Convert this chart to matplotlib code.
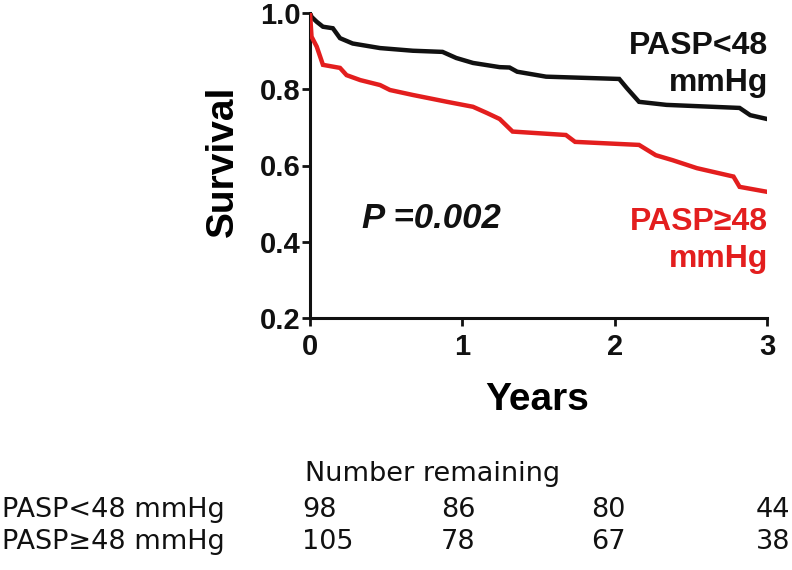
import matplotlib
matplotlib.use("Agg")
import matplotlib.pyplot as plt

# Kaplan-Meier curves (years, survival)
low_years = [0, 0.01, 0.044, 0.085, 0.15, 0.197, 0.28, 0.46, 0.675, 0.87, 0.96,
             1.07, 1.245, 1.31, 1.36, 1.55, 2.03, 2.08, 2.16, 2.34, 2.82, 2.89, 3.0]
low_surv = [1.0, 0.99, 0.977, 0.964, 0.96, 0.934, 0.92, 0.908, 0.901, 0.898, 0.882,
            0.869, 0.858, 0.857, 0.846, 0.833, 0.827, 0.803, 0.767, 0.759, 0.751, 0.732, 0.722]

high_years = [0, 0.01, 0.044, 0.085, 0.197, 0.24, 0.33, 0.46, 0.525, 0.675, 0.9, 1.07,
              1.16, 1.245, 1.33, 1.68, 1.74, 2.16, 2.27, 2.38, 2.54, 2.78, 2.82, 3.0]
high_surv = [1.0, 0.938, 0.912, 0.864, 0.856, 0.837, 0.824, 0.811, 0.798, 0.785, 0.767, 0.754,
             0.738, 0.722, 0.689, 0.68, 0.662, 0.654, 0.627, 0.614, 0.593, 0.571, 0.544, 0.531]

group_labels = ["PASP<48 mmHg", "PASP\u226548 mmHg"]
at_risk_low = [98, 86, 80, 44]
at_risk_high = [105, 78, 67, 38]
p_text = "P =0.002"

BLACK = "#111111"
RED = "#e31e1e"

plt.rcParams["font.family"] = ["Liberation Sans", "DejaVu Sans"]

W, H = 792, 570
fig = plt.figure(figsize=(W / 100, H / 100), dpi=100)
ax = fig.add_axes([310 / W, 1 - 318 / H, 457 / W, 305 / H])

ax.plot(low_years, low_surv, color=BLACK, lw=3.2, solid_joinstyle="miter", zorder=3)
ax.plot(high_years, high_surv, color=RED, lw=3.2, solid_joinstyle="miter", zorder=3)

ax.set_xlim(0, 3)
ax.set_ylim(0.2, 1.0)
ax.set_xticks([0, 1, 2, 3])
ax.set_yticks([0.2, 0.4, 0.6, 0.8, 1.0])
ax.set_yticklabels(["0.2", "0.4", "0.6", "0.8", "1.0"])
for side in ("top", "right"):
    ax.spines[side].set_visible(False)
for side in ("left", "bottom"):
    ax.spines[side].set_linewidth(2.2)
    ax.spines[side].set_color(BLACK)
ax.tick_params(axis="both", direction="out", length=6, width=2, color=BLACK,
               labelsize=21, labelcolor=BLACK)
ax.tick_params(axis="y", pad=1)
ax.tick_params(axis="x", pad=5)
for lab in ax.get_xticklabels() + ax.get_yticklabels():
    lab.set_fontweight("bold")

ax.set_ylabel("Survival", fontsize=28, fontweight="bold", va="center")
ax.yaxis.set_label_coords(-0.19, 0.515)
ax.set_xlabel("Years", fontsize=28, fontweight="bold", va="center")
ax.xaxis.set_label_coords(0.497, -0.27)

ax.text(1.003, 0.83, "PASP<48\nmmHg", transform=ax.transAxes, ha="right", va="center",
        multialignment="right", fontsize=23, fontweight="bold", color=BLACK, linespacing=1.3)
ax.text(1.003, 0.255, "PASP\u226548\nmmHg", transform=ax.transAxes, ha="right", va="center",
        multialignment="right", fontsize=23, fontweight="bold", color=RED, linespacing=1.3)
ax.text(0.114, 0.325, p_text, transform=ax.transAxes, ha="left", va="center",
        fontsize=25, fontweight="bold", fontstyle="italic", color=BLACK)

# number-at-risk table below the chart (wider face, as in the source)
tbl = dict(fontsize=19.5, color=BLACK, va="baseline", family=["DejaVu Sans"])
fig.text(305 / W, 1 - 481 / H, "Number remaining", ha="left", **tbl)
col_x = [302, 441, 591, 756]
for row_y, label, counts in zip([517, 549], group_labels, [at_risk_low, at_risk_high]):
    fig.text(2 / W, 1 - row_y / H, label, ha="left", **tbl)
    for cx, n in zip(col_x, counts):
        fig.text(cx / W, 1 - row_y / H, str(n), ha="left", **tbl)

fig.savefig("out.png", dpi=100, facecolor="white")
